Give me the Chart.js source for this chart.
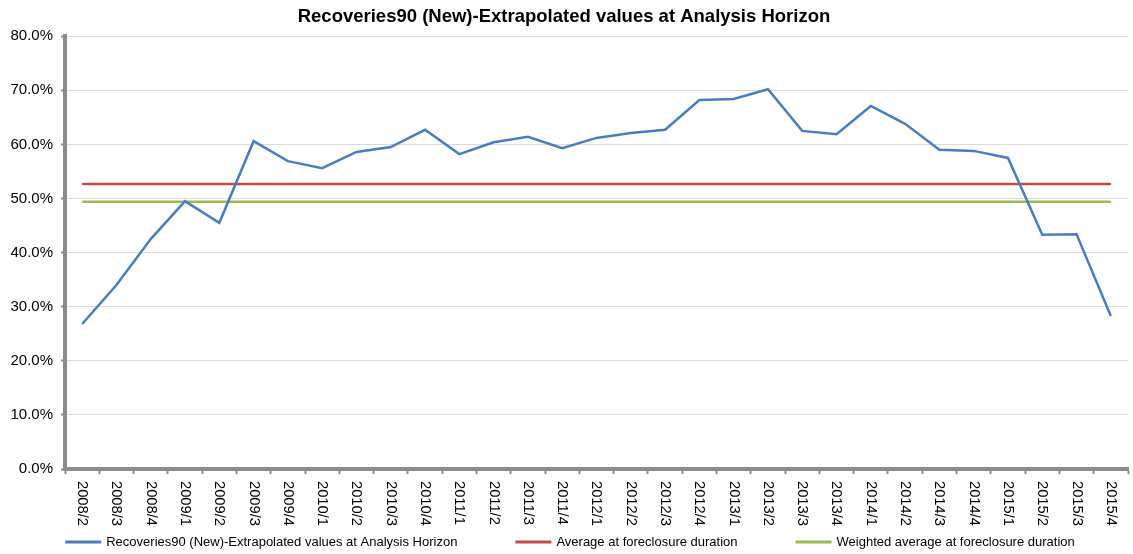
<!DOCTYPE html>
<html>
<head>
<meta charset="utf-8">
<script src="https://cdn.jsdelivr.net/npm/chart.js@4"></script>
<style>
  html, body { margin: 0; padding: 0; background: #fff; }
  #wrap { width: 1133px; height: 554px; }
</style>
</head>
<body>
<div id="wrap"><canvas id="chart" width="1133" height="554"></canvas></div>
<script>
var categories = [
  '2008/2', '2008/3', '2008/4',
  '2009/1', '2009/2', '2009/3', '2009/4',
  '2010/1', '2010/2', '2010/3', '2010/4',
  '2011/1', '2011/2', '2011/3', '2011/4',
  '2012/1', '2012/2', '2012/3', '2012/4',
  '2013/1', '2013/2', '2013/3', '2013/4',
  '2014/1', '2014/2', '2014/3', '2014/4',
  '2015/1', '2015/2', '2015/3', '2015/4'
];

// Recoveries90 (New) extrapolated values, in percent
var recoveries = [
  26.8, 34.0, 42.5,
  49.5, 45.5, 60.6, 56.9,
  55.6, 58.6, 59.5, 62.7,
  58.2, 60.4, 61.4, 59.3,
  61.2, 62.1, 62.7, 68.2,
  68.4, 70.2, 62.5, 61.9,
  67.1, 63.8, 59.0, 58.8,
  57.5, 43.3, 43.4, 28.3
];

var averageValue = 52.7;
var weightedAverageValue = 49.4;

var yTicks = [0, 10, 20, 30, 40, 50, 60, 70, 80];

var FONT = '"Liberation Sans", Arial, sans-serif';

function flatLine(v) {
  return [
    { x: categories[0], y: v },
    { x: categories[categories.length - 1], y: v }
  ];
}

// draws the x labels (rotated clockwise) and the legend row
var customText = {
  id: 'customText',
  afterDraw: function(chart) {
    var ctx = chart.ctx;
    var xs = chart.scales.x;
    ctx.save();
    ctx.fillStyle = '#000';
    ctx.font = '14.7px ' + FONT;
    ctx.textAlign = 'left';
    ctx.textBaseline = 'middle';
    categories.forEach(function(c, i) {
      var px = xs.getPixelForValue(i);
      ctx.save();
      ctx.translate(px, xs.top + 12);
      ctx.rotate(Math.PI / 2);
      ctx.fillText(c, 0, 0);
      ctx.restore();
    });

    // legend
    ctx.font = '13px ' + FONT;
    var sets = chart.data.datasets;
    var lineW = 36, textGap = 5, itemGap = 58;
    var total = 0;
    var widths = sets.map(function(d) {
      var w = ctx.measureText(d.label).width;
      total += lineW + textGap + w;
      return w;
    });
    total += itemGap * (sets.length - 1);
    var x = 570 - total / 2;
    var y = 542;
    sets.forEach(function(d, i) {
      ctx.strokeStyle = d.borderColor;
      ctx.lineWidth = 3;
      ctx.beginPath();
      ctx.moveTo(x, y);
      ctx.lineTo(x + lineW, y);
      ctx.stroke();
      ctx.fillStyle = '#000';
      ctx.fillText(d.label, x + lineW + textGap, y);
      x += lineW + textGap + widths[i] + itemGap;
    });
    ctx.restore();
  }
};

var options = {
  type: 'line',
  data: {
    labels: categories,
    datasets: [
      {
        label: 'Recoveries90 (New)-Extrapolated values at Analysis Horizon',
        data: recoveries,
        borderColor: '#4a7ebb',
        borderWidth: 2.5,
        pointRadius: 0,
        tension: 0
      },
      {
        label: 'Average at foreclosure duration',
        data: flatLine(averageValue),
        borderColor: '#be4b48',
        borderWidth: 2.5,
        pointRadius: 0
      },
      {
        label: 'Weighted average at foreclosure duration',
        data: flatLine(weightedAverageValue),
        borderColor: '#98b954',
        borderWidth: 2.5,
        pointRadius: 0
      }
    ]
  },
  options: {
    responsive: false,
    animation: false,
    layout: { padding: { left: 0, right: 5, top: 0, bottom: 0 } },
    plugins: {
      legend: { display: false },
      tooltip: { enabled: false },
      title: {
        display: true,
        text: 'Recoveries90 (New)-Extrapolated values at Analysis Horizon',
        color: '#000',
        font: { family: FONT, size: 18.5, weight: 'bold' },
        padding: { top: 6, bottom: 8 }
      }
    },
    scales: {
      x: {
        type: 'category',
        offset: true,
        grid: {
          offset: true,
          drawOnChartArea: false,
          drawTicks: true,
          tickLength: 5,
          tickColor: '#8c8c8c',
          tickWidth: 2
        },
        border: { display: true, color: '#8c8c8c', width: 4 },
        ticks: { display: false },
        afterFit: function(scale) { scale.height = 85; }
      },
      y: {
        min: 0,
        max: 80,
        afterBuildTicks: function(scale) {
          scale.ticks = yTicks.map(function(v) { return { value: v }; });
        },
        grid: {
          color: '#d9d9d9',
          lineWidth: 1,
          drawTicks: true,
          tickLength: 4,
          tickColor: '#8c8c8c',
          tickWidth: 2
        },
        border: { display: true, color: '#8c8c8c', width: 4 },
        ticks: {
          color: '#000',
          padding: 8,
          font: { family: FONT, size: 15 },
          callback: function(v) { return v.toFixed(1) + '%'; }
        },
        afterFit: function(scale) { scale.width = 65; }
      }
    }
  },
  plugins: [customText]
};

var chart = new Chart(document.getElementById('chart'), options);
</script>
</body>
</html>
